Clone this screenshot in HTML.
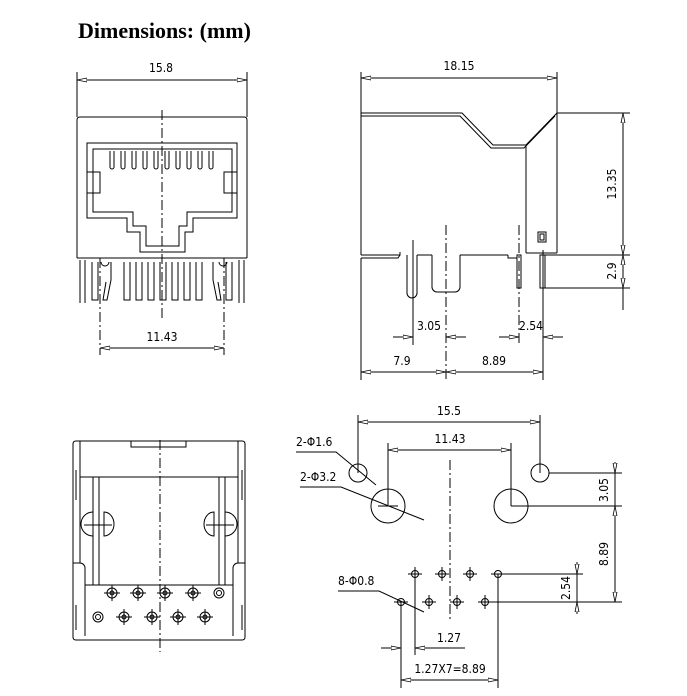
<!DOCTYPE html>
<html><head><meta charset="utf-8"><style>
html,body{margin:0;padding:0;background:#fff;}
svg{display:block;}
text{font-family:"DejaVu Sans Condensed","Liberation Sans",sans-serif;font-size:12px;fill:#000;}
</style></head><body>
<svg width="687" height="696" viewBox="0 0 687 696" xmlns="http://www.w3.org/2000/svg">
<defs>
<marker id="a" viewBox="0 0 10 6" refX="10" refY="3" markerWidth="10" markerHeight="6" orient="auto-start-reverse" markerUnits="userSpaceOnUse">
<path d="M0,1 L10,3 L0,5 Z" fill="#fff" stroke="#000" stroke-width="0.8"/></marker>
</defs>
<text x="78" y="38" style="font-family:'Liberation Serif',serif;font-size:22px;font-weight:bold">Dimensions: (mm)</text>

<g fill="none" stroke="#000" stroke-width="1">
<!-- FRONT VIEW -->
<line x1="77" y1="72" x2="77" y2="117"/><line x1="247" y1="72" x2="247" y2="117"/>
<line x1="77" y1="80" x2="247" y2="80" marker-start="url(#a)" marker-end="url(#a)"/>
<path d="M77,258 V120 Q77,117 80,117 H244 Q247,117 247,120 V258"/>
<line x1="77" y1="258" x2="247" y2="258"/>
<path d="M87,143 H237 V218 H193 V232 H185 V252 H140 V232 H127 V218 H87 Z"/>
<path d="M93,149 H232 V212 H187 V226 H179 V246 H146 V226 H133 V212 H93 Z"/>
<rect x="87" y="172" width="13" height="21"/><rect x="224" y="172" width="13" height="21"/>
<g>
<path d="M110,151 V167 a2,2 0 0 0 4,0 V151"/><path d="M121,151 V167 a2,2 0 0 0 4,0 V151"/>
<path d="M132,151 V167 a2,2 0 0 0 4,0 V151"/><path d="M143,151 V167 a2,2 0 0 0 4,0 V151"/>
<path d="M154,151 V167 a2,2 0 0 0 4,0 V151"/><path d="M165,151 V167 a2,2 0 0 0 4,0 V151"/>
<path d="M176,151 V167 a2,2 0 0 0 4,0 V151"/><path d="M187,151 V167 a2,2 0 0 0 4,0 V151"/>
<path d="M198,151 V167 a2,2 0 0 0 4,0 V151"/><path d="M209,151 V167 a2,2 0 0 0 4,0 V151"/>
</g>
<!-- pins -->
<path d="M80,260 V303 M85,260 V303 M92,262 V300 H98 V262 M101,262 a4,4 0 0 0 8,0 M111,262 V280 L107,300 H103 L106,282"/>
<path d="M124,262 V300 H130 V262 M136,262 V300 H142 V262 M148,262 V300 H154 V262 M160,262 V300 H166 V262 M172,262 V300 H178 V262 M184,262 V300 H190 V262 M196,262 V300 H202 V262"/>
<path d="M213,262 V280 L217,300 H221 L218,282 M219,262 a4,4 0 0 0 8,0 M226,262 V300 H232 V262 M239,260 V303 M244,260 V303"/>
<line x1="162" y1="110" x2="162" y2="320" stroke-dasharray="10,3,2,3"/>
<line x1="100" y1="258" x2="100" y2="355" stroke-dasharray="10,3,2,3"/>
<line x1="224" y1="258" x2="224" y2="355" stroke-dasharray="10,3,2,3"/>
<line x1="100" y1="348" x2="224" y2="348" marker-start="url(#a)" marker-end="url(#a)"/>

<!-- SIDE VIEW -->
<line x1="361" y1="72" x2="361" y2="113"/><line x1="557" y1="72" x2="557" y2="113"/>
<line x1="361" y1="78" x2="557" y2="78" marker-start="url(#a)" marker-end="url(#a)"/>
<path d="M361,255 V113 H462 L493,145 H526 L557,113 V253"/>
<path d="M361,116 H460 L491,148 H524 L555,116"/>
<line x1="526" y1="145" x2="526" y2="253"/>
<path d="M361,255 H400 V252 M361,258 H398 L400,255"/>
<path d="M407,255 V293 a5,5 0 0 0 10,0 V255"/>
<path d="M432,255 V287 a5,5 0 0 0 5,5 H455 a5,5 0 0 0 5,-5 V255"/>
<line x1="417" y1="255" x2="432" y2="255"/><line x1="460" y1="255" x2="508" y2="255"/>
<path d="M508,255 V258 H517"/>
<line x1="526" y1="253" x2="557" y2="253"/>
<rect x="517" y="255" width="4" height="33"/><rect x="540" y="255" width="5" height="33"/>
<rect x="538" y="232" width="8" height="10"/><rect x="540" y="234" width="4" height="6"/>
<line x1="557" y1="113" x2="630" y2="113"/><line x1="545" y1="255" x2="630" y2="255"/><line x1="545" y1="288" x2="630" y2="288"/>
<line x1="623" y1="113" x2="623" y2="255" marker-start="url(#a)" marker-end="url(#a)"/>
<line x1="623" y1="255" x2="623" y2="288" marker-start="url(#a)" marker-end="url(#a)"/>
<line x1="623" y1="288" x2="623" y2="310"/>
<line x1="413" y1="240" x2="413" y2="345"/>
<line x1="446" y1="225" x2="446" y2="380" stroke-dasharray="10,3,2,3"/>
<line x1="519" y1="225" x2="519" y2="345" stroke-dasharray="10,3,2,3"/>
<line x1="543" y1="250" x2="543" y2="380"/>
<line x1="361" y1="258" x2="361" y2="380"/>
<line x1="393" y1="337" x2="413" y2="337" marker-end="url(#a)"/>
<line x1="466" y1="337" x2="446" y2="337" marker-end="url(#a)"/>
<line x1="499" y1="337" x2="519" y2="337" marker-end="url(#a)"/>
<line x1="563" y1="337" x2="543" y2="337" marker-end="url(#a)"/>
<line x1="361" y1="372" x2="446" y2="372" marker-start="url(#a)" marker-end="url(#a)"/>
<line x1="446" y1="372" x2="543" y2="372" marker-start="url(#a)" marker-end="url(#a)"/>

<!-- BOTTOM-LEFT VIEW -->
<path d="M73,444 Q73,441 76,441 H242 Q245,441 245,444 V637 Q245,640 242,640 H76 Q73,640 73,637 Z"/>
<path d="M80,441 V477 H238 V441 M131,441 V447 H186 V441"/>
<path d="M80,477 V563 M238,477 V563 M73,563 H80 a5,5 0 0 1 5,5 V636 M245,563 H238 a5,5 0 0 0 -5,5 V636"/>
<path d="M76,470 V500 M242,470 V500 M76,605 V630 M242,605 V630"/>
<line x1="85" y1="585" x2="233" y2="585"/>
<path d="M93,477 V585 M99,477 V585 M219,477 V585 M225,477 V585"/>
<path d="M93,512 a12,12 0 0 0 0,24 M104,512 a10,12 0 0 1 0,24 Z M225,512 a12,12 0 0 1 0,24 M214,512 a10,12 0 0 0 0,24 Z"/>
<line x1="84" y1="525" x2="112" y2="525"/><line x1="206" y1="525" x2="234" y2="525"/>
<line x1="160" y1="440" x2="160" y2="652" stroke-dasharray="10,3,2,3"/>
<g>
<circle cx="112" cy="593" r="5"/><circle cx="112" cy="593" r="2"/><path d="M104,593 H120 M112,585 V601"/>
<circle cx="138" cy="593" r="5"/><circle cx="138" cy="593" r="2"/><path d="M130,593 H146 M138,585 V601"/>
<circle cx="165" cy="593" r="5"/><circle cx="165" cy="593" r="2"/><path d="M157,593 H173 M165,585 V601"/>
<circle cx="193" cy="593" r="5"/><circle cx="193" cy="593" r="2"/><path d="M185,593 H201 M193,585 V601"/>
<circle cx="219" cy="593" r="5"/><circle cx="219" cy="593" r="2.5"/>
<circle cx="98" cy="617" r="5"/><circle cx="98" cy="617" r="2.5"/>
<circle cx="124" cy="617" r="5"/><circle cx="124" cy="617" r="2"/><path d="M116,617 H132 M124,609 V625"/>
<circle cx="152" cy="617" r="5"/><circle cx="152" cy="617" r="2"/><path d="M144,617 H160 M152,609 V625"/>
<circle cx="178" cy="617" r="5"/><circle cx="178" cy="617" r="2"/><path d="M170,617 H186 M178,609 V625"/>
<circle cx="205" cy="617" r="5"/><circle cx="205" cy="617" r="2"/><path d="M197,617 H213 M205,609 V625"/>
</g>

<!-- BOTTOM-RIGHT (PCB LAYOUT) -->
<line x1="358" y1="415" x2="358" y2="473"/><line x1="540" y1="415" x2="540" y2="473"/>
<line x1="358" y1="422" x2="540" y2="422" marker-start="url(#a)" marker-end="url(#a)"/>
<line x1="388" y1="443" x2="388" y2="506"/><line x1="511" y1="443" x2="511" y2="506"/>
<line x1="388" y1="450" x2="511" y2="450" marker-start="url(#a)" marker-end="url(#a)"/>
<circle cx="358" cy="473" r="9"/><circle cx="540" cy="473" r="9"/>
<circle cx="388" cy="506" r="17"/><circle cx="511" cy="506" r="17"/>
<line x1="378" y1="506" x2="398" y2="506"/><line x1="511" y1="506" x2="622" y2="506"/>
<line x1="549" y1="473" x2="622" y2="473"/>
<line x1="450" y1="460" x2="450" y2="620" stroke-dasharray="10,3,2,3"/>
<line x1="615" y1="462" x2="615" y2="473" marker-end="url(#a)"/>
<line x1="615" y1="473" x2="615" y2="506"/>
<line x1="615" y1="506" x2="615" y2="602" marker-start="url(#a)" marker-end="url(#a)"/>
<line x1="577" y1="562" x2="577" y2="574" marker-end="url(#a)"/>
<line x1="577" y1="574" x2="577" y2="602"/>
<line x1="577" y1="614" x2="577" y2="602" marker-end="url(#a)"/>
<line x1="498" y1="574" x2="583" y2="574"/><line x1="485" y1="602" x2="622" y2="602"/>
<g>
<circle cx="415" cy="574" r="3.5"/><path d="M408,574 H422 M415,567 V581"/>
<circle cx="442" cy="574" r="3.5"/><path d="M435,574 H449 M442,567 V581"/>
<circle cx="470" cy="574" r="3.5"/><path d="M463,574 H477 M470,567 V581"/>
<circle cx="498" cy="574" r="3.5"/><path d="M491,574 H505"/>
<circle cx="401" cy="602" r="3.5"/><path d="M394,602 H408"/>
<circle cx="429" cy="602" r="3.5"/><path d="M422,602 H436 M429,595 V609"/>
<circle cx="457" cy="602" r="3.5"/><path d="M450,602 H464 M457,595 V609"/>
<circle cx="485" cy="602" r="3.5"/><path d="M478,602 H492 M485,595 V609"/>
</g>
<line x1="401" y1="602" x2="401" y2="688"/><line x1="415" y1="574" x2="415" y2="655"/>
<line x1="498" y1="574" x2="498" y2="688"/>
<line x1="381" y1="648" x2="401" y2="648" marker-end="url(#a)"/>
<line x1="425" y1="648" x2="415" y2="648" marker-end="url(#a)"/><line x1="425" y1="648" x2="465" y2="648"/>
<line x1="401" y1="680" x2="498" y2="680" marker-start="url(#a)" marker-end="url(#a)"/>
<!-- leaders -->
<path d="M296,452 H336 L376,485"/><path d="M300,487 H341 L424,520"/><path d="M338,591 H379 L424,612"/>
</g>

<g>
<text x="161" y="72" text-anchor="middle">15.8</text>
<text x="162" y="341" text-anchor="middle">11.43</text>
<text x="459" y="70" text-anchor="middle">18.15</text>
<text x="429" y="330" text-anchor="middle">3.05</text>
<text x="531" y="330" text-anchor="middle">2.54</text>
<text x="402" y="365" text-anchor="middle">7.9</text>
<text x="494" y="365" text-anchor="middle">8.89</text>
<text transform="translate(616,184) rotate(-90)" text-anchor="middle">13.35</text>
<text transform="translate(616,271) rotate(-90)" text-anchor="middle">2.9</text>
<text x="449" y="415" text-anchor="middle">15.5</text>
<text x="450" y="443" text-anchor="middle">11.43</text>
<text x="296" y="446">2-Φ1.6</text>
<text x="300" y="481">2-Φ3.2</text>
<text x="338" y="585">8-Φ0.8</text>
<text transform="translate(608,490) rotate(-90)" text-anchor="middle">3.05</text>
<text transform="translate(608,554) rotate(-90)" text-anchor="middle">8.89</text>
<text transform="translate(570,588) rotate(-90)" text-anchor="middle">2.54</text>
<text x="449" y="642" text-anchor="middle">1.27</text>
<text x="450" y="673" text-anchor="middle">1.27X7=8.89</text>
</g>
</svg>
</body></html>
